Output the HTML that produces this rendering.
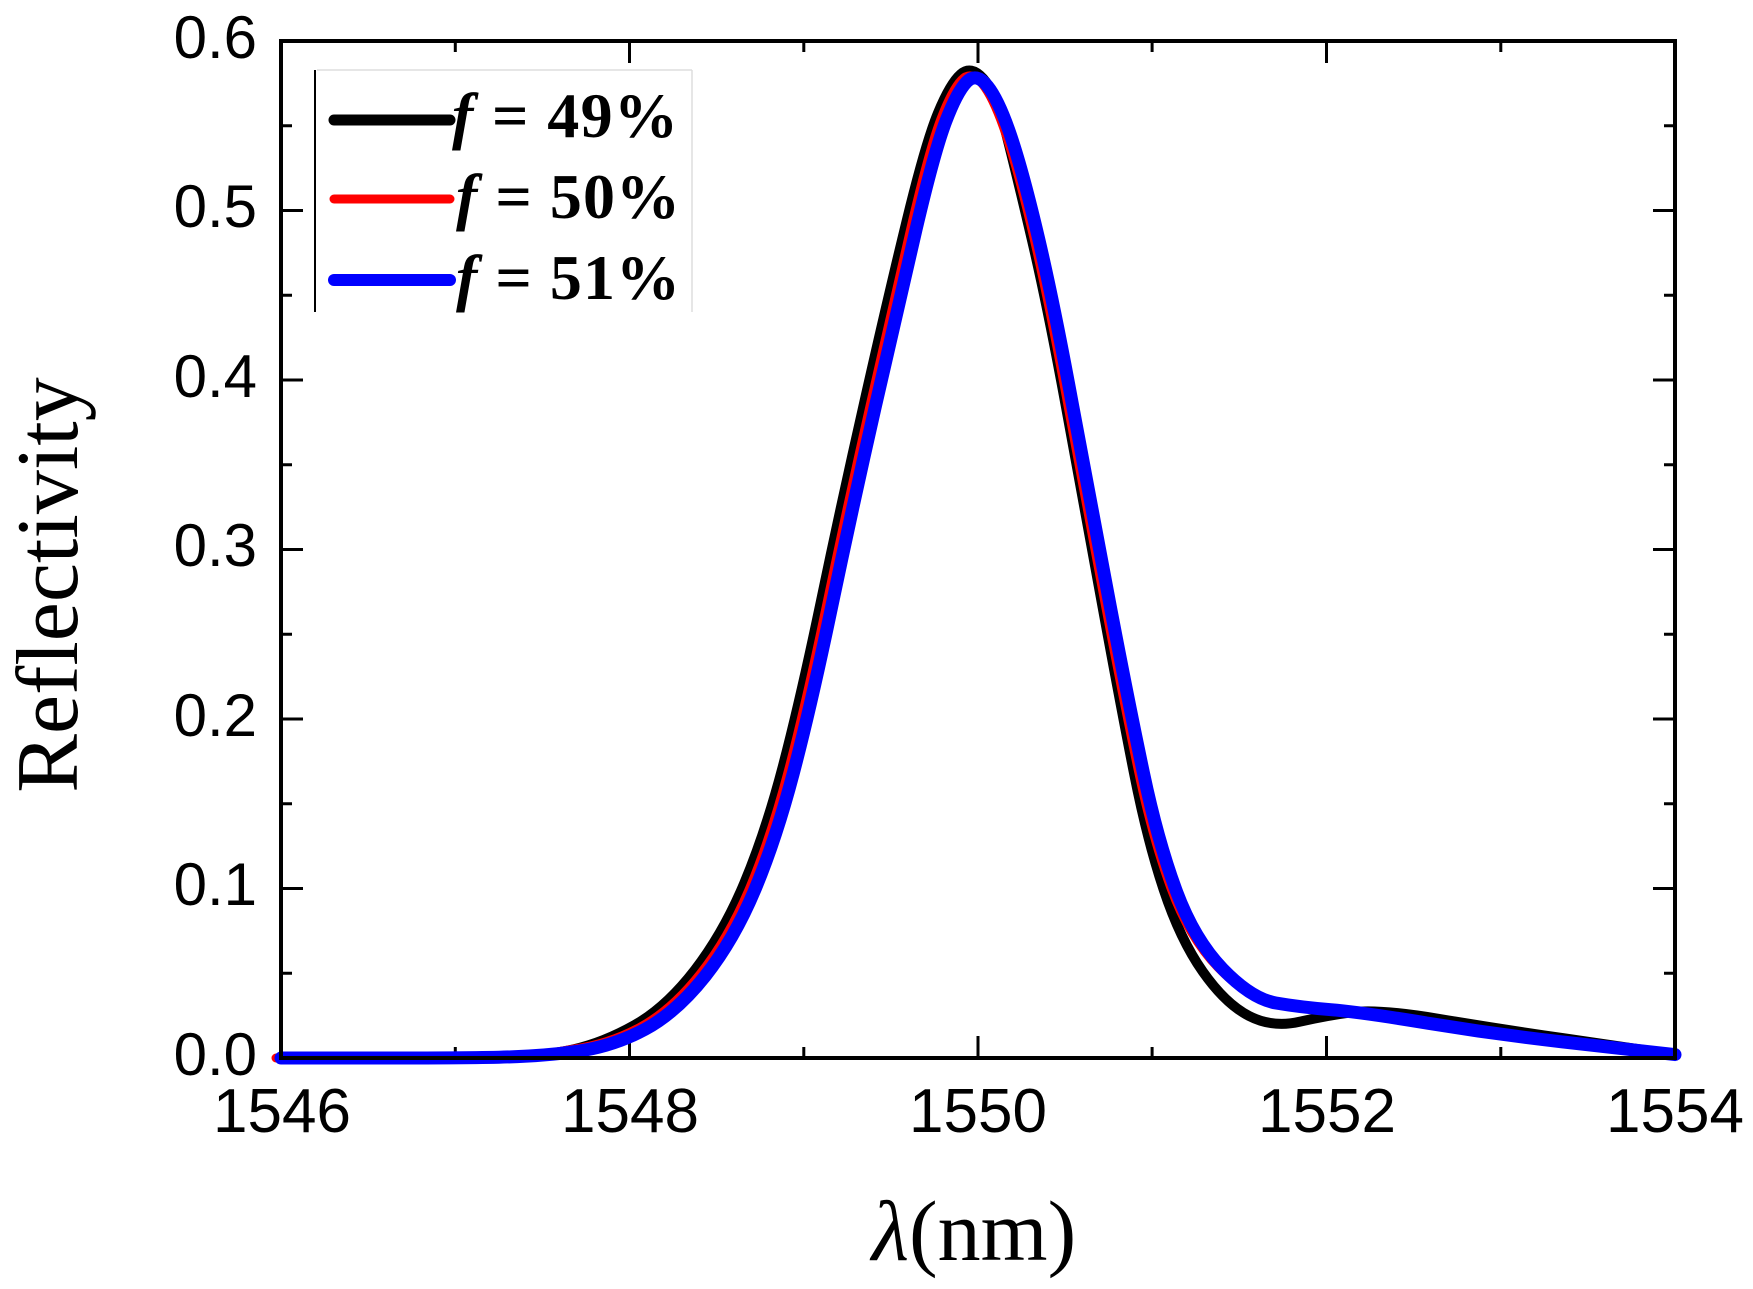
<!DOCTYPE html>
<html><head><meta charset="utf-8"><style>
html,body{margin:0;padding:0;background:#fff;}
svg{display:block}
</style></head><body>
<svg width="1753" height="1289" viewBox="0 0 1753 1289" xmlns="http://www.w3.org/2000/svg">
<rect width="1753" height="1289" fill="#fff"/>
<path stroke="#000" stroke-width="3" fill="none" d="
M281,1058v-22 M629.5,1058v-22 M978,1058v-22 M1326.5,1058v-22 M1675,1058v-22
M455.3,1058v-11 M803.8,1058v-11 M1152.1,1058v-11 M1500.8,1058v-11
M281,41v22 M629.5,41v22 M978,41v22 M1326.5,41v22 M1675,41v22
M455.3,41v11 M803.8,41v11 M1152.1,41v11 M1500.8,41v11
M281,888.5h22 M281,719h22 M281,549.5h22 M281,380h22 M281,210.5h22
M281,973.3h11 M281,803.8h11 M281,634.3h11 M281,464.8h11 M281,295.3h11 M281,125.8h11
M1675,888.5h-22 M1675,719h-22 M1675,549.5h-22 M1675,380h-22 M1675,210.5h-22
M1675,973.3h-11 M1675,803.8h-11 M1675,634.3h-11 M1675,464.8h-11 M1675,295.3h-11 M1675,125.8h-11"/>
<g fill="none" stroke-linejoin="round" stroke-linecap="round">
<path stroke="#000" stroke-width="10" d="M281,1058 L368.2,1058 Q455.3,1058 498.9,1057.2 Q542.4,1056.3 572.9,1049.5 Q603.3,1042.7 634.7,1025 Q666.1,1007.2 694.9,969.9 Q723.6,932.6 744.5,882.6 Q765.4,832.6 782.8,766.5 Q800.2,700.4 821.1,600.4 Q842,500.3 864.7,400.3 Q887.3,300.3 906.5,221.5 Q925.7,142.7 937.9,113.1 Q950.1,83.4 960.6,74.2 Q971,65 983.2,78.5 Q995.4,91.9 1005.9,132.6 Q1016.3,173.2 1032,240.2 Q1047.7,307.1 1066,407.1 Q1084.3,507.1 1102.6,607.1 Q1120.9,707.1 1134,773.2 Q1147,839.3 1163.6,889.4 Q1180.1,939.4 1202.8,971.6 Q1225.4,1003.8 1249,1015.9 Q1272.5,1028 1299.5,1021.8 Q1326.5,1015.6 1352.7,1012.2 Q1378.8,1008.8 1439.8,1019 Q1500.8,1029.2 1565.3,1038.5 Q1629.7,1047.8 1652.4,1051.2 L1675,1054.6"/>
<path id="bl" stroke="#f00" stroke-width="9" transform="translate(-5,-2)" d="M281,1060 L368.2,1060 Q455.3,1060 498.9,1059.2 Q542.4,1058.3 578.1,1051.2 Q613.8,1046.1 645.2,1029.2 Q676.6,1012.2 705.4,975.8 Q734.1,939.4 755,889.4 Q775.9,839.3 793.3,773.2 Q810.7,707.1 831.6,607.1 Q852.5,507.1 875.2,407.1 Q897.8,307.1 916.1,229.2 Q934.4,151.2 945.7,121.6 Q957,91.9 966.6,82 Q976.2,72 987.6,86.2 Q998.9,100.3 1011.1,136.8 Q1023.3,173.2 1039,240.2 Q1054.6,307.1 1072.9,407.1 Q1091.2,507.1 1110.4,607.1 Q1129.5,707.1 1143.5,773.2 Q1157.4,839.3 1175.7,889.4 Q1194,939.4 1222.8,969.1 Q1251.5,998.7 1275.9,1003 Q1300.3,1007.2 1330.9,1009.7 Q1361.4,1012.2 1428.5,1023.3 Q1495.5,1034.3 1562.6,1041.9 Q1629.7,1049.5 1652.4,1052.1 L1680,1056.6"/>
<path stroke="#00f" stroke-width="13" d="M281,1058 L368.2,1058 Q455.3,1058 498.9,1057.2 Q542.4,1056.3 578.1,1051.2 Q613.8,1046.1 645.2,1029.2 Q676.6,1012.2 705.4,975.8 Q734.1,939.4 755,889.4 Q775.9,839.3 793.3,773.2 Q810.7,707.1 831.6,607.1 Q852.5,507.1 875.2,407.1 Q897.8,307.1 916.1,229.2 Q934.4,151.2 945.7,121.6 Q957,91.9 966.6,82 Q976.2,72 987.6,86.2 Q998.9,100.3 1011.1,136.8 Q1023.3,173.2 1039,240.2 Q1054.6,307.1 1072.9,407.1 Q1091.2,507.1 1110.4,607.1 Q1129.5,707.1 1143.5,773.2 Q1157.4,839.3 1175.7,889.4 Q1194,939.4 1222.8,969.1 Q1251.5,998.7 1275.9,1003 Q1300.3,1007.2 1330.9,1009.7 Q1361.4,1012.2 1428.5,1023.3 Q1495.5,1034.3 1562.6,1041.9 Q1629.7,1049.5 1652.4,1052.1 L1675,1054.6"/>
</g>
<rect x="281" y="41" width="1394" height="1017" fill="none" stroke="#000" stroke-width="4"/>
<g font-family="Liberation Sans, Arial, sans-serif" font-size="60" fill="#000" text-anchor="end">
<text x="257" y="1075">0.0</text>
<text x="257" y="905">0.1</text>
<text x="257" y="736">0.2</text>
<text x="257" y="566">0.3</text>
<text x="257" y="397">0.4</text>
<text x="257" y="227">0.5</text>
<text x="257" y="58">0.6</text>
</g>
<g font-family="Liberation Sans, Arial, sans-serif" font-size="62" fill="#000" text-anchor="middle">
<text x="282" y="1132">1546</text>
<text x="630" y="1132">1548</text>
<text x="978" y="1132">1550</text>
<text x="1327" y="1132">1552</text>
<text x="1675" y="1132">1554</text>
</g>
<text x="974" y="1260" font-family="Liberation Serif, serif" font-size="86" text-anchor="middle"><tspan font-style="italic">λ</tspan>(nm)</text>
<text transform="translate(77,585) rotate(-90)" font-family="Liberation Serif, serif" font-size="88" text-anchor="middle">Reflectivity</text>
<line x1="315" y1="70" x2="315" y2="312" stroke="#000" stroke-width="2"/>
<line x1="317" y1="70" x2="692" y2="70" stroke="#ddd" stroke-width="1.5"/>
<line x1="692" y1="70" x2="692" y2="312" stroke="#ddd" stroke-width="1.5"/>
<g stroke-linecap="round">
<line x1="334" y1="120" x2="450" y2="120" stroke="#000" stroke-width="11"/>
<line x1="334" y1="199" x2="450" y2="199" stroke="#f00" stroke-width="9"/>
<line x1="334" y1="280" x2="450" y2="280" stroke="#00f" stroke-width="12"/>
</g>
<g font-family="Liberation Serif, serif" font-size="64" font-weight="bold" fill="#000">
<text x="452" y="137" textLength="226" lengthAdjust="spacing"><tspan font-style="italic">f</tspan> = 49%</text>
<text x="456" y="218" textLength="224" lengthAdjust="spacing"><tspan font-style="italic">f</tspan> = 50%</text>
<text x="456" y="299" textLength="224" lengthAdjust="spacing"><tspan font-style="italic">f</tspan> = 51%</text>
</g>
</svg>
</body></html>
